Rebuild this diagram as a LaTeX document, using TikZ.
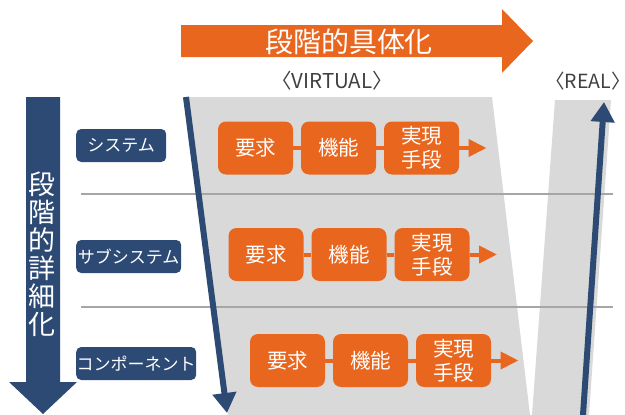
\documentclass[tikz,border=0pt]{standalone}
\usepackage{fontspec}
\setmainfont{Noto Sans CJK JP}
\usetikzlibrary{arrows.meta}

\definecolor{vorange}{HTML}{E9661F}
\definecolor{vnavy}{HTML}{2C4A74}
\definecolor{vgray}{HTML}{D9D9D9}
\definecolor{vline}{HTML}{A6A6A6}
\definecolor{vtext}{HTML}{404040}

\tikzset{
    stepbox/.style={fill=vorange, rounded corners=8pt, minimum width=75pt, minimum height=53pt,
        inner sep=0pt, text=white, align=center, font=\fontsize{20.5}{24}\selectfont},
    levelbox/.style={fill=vnavy, rounded corners=5pt, minimum height=33pt, inner sep=0pt,
        text=white, anchor=west, font=\fontsize{17}{20}\selectfont},
    flow/.style={vorange, line width=4pt},
    trend/.style={vnavy, line width=6pt, -{Triangle[length=20pt,width=23pt]}},
}

\begin{document}
\begin{tikzpicture}[x=1pt, y=-1pt]
    \useasboundingbox (0,0) rectangle (625,415);
    % gray bands
    \fill[vgray] (183,97) -- (492,97) -- (530,415) -- (228,415) -- cycle;
    \fill[vgray] (555,100) -- (611,100) -- (589,415) -- (532,415) -- cycle;
    \draw[vline, line width=1.5pt] (81,194) -- (613,194);
    \draw[vline, line width=1.5pt] (81,307) -- (613,307);
    % top arrow
    \fill[vorange] (181,25) -- (502,25) -- (502,9) -- (533,41) -- (502,73) -- (502,57) -- (181,57) -- cycle;
    \node[text=white, font=\fontsize{28}{30}\selectfont] (concrete) at (349,42) {段階的具体化};
    \node[text=vtext, font=\fontsize{20.5}{22}\selectfont] (virtual) at (332,81) {〈VIRTUAL〉};
    \node[text=vtext, font=\fontsize{19.5}{22}\selectfont, anchor=west, inner xsep=0pt] (real) at (545,81)
        {〈REAL〉\kern-0.6em};
    % left arrow
    \fill[vnavy] (26,97) -- (60,97) -- (60,382) -- (77,382) -- (43,414) -- (9,382) -- (26,382) -- cycle;
    \node[text=white, align=center, font=\fontsize{27}{28}\selectfont] (detail) at (42,254)
        {段\\階\\的\\詳\\細\\化};
    % V arrows
    \coordinate (vtop) at (186,97);
    \coordinate (vbot) at (227,413);
    \coordinate (rbot) at (583,415);
    \coordinate (rtop) at (604,102);
    \draw[trend] (vtop) -- (vbot);
    \draw[trend] (rbot) -- (rtop);
    % levels
    \node[levelbox, minimum width=90pt] (sys) at (76,145.5) {システム};
    \node[levelbox, minimum width=105pt] (sub) at (76,256.5) {サブシステム};
    \node[levelbox, minimum width=120pt] (comp) at (76,363.5) {コンポーネント};
    % steps
    \foreach \r/\x/\y in {1/255.5/148, 2/266/254.5, 3/287.5/360.5} {
        \node[stepbox] (req\r) at (\x,\y) {要求};
        \node[stepbox] (fun\r) at (\x+83,\y) {機能};
        \node[stepbox] (mea\r) at (\x+166,\y) {実現\\手段};
        \coordinate (end\r) at (\x+231,\y);
        \draw[flow] (req\r) -- (fun\r);
        \draw[flow] (fun\r) -- (mea\r);
        \draw[flow, -{Triangle[length=18pt,width=17pt]}] (mea\r) -- (end\r);
    }
\end{tikzpicture}
\end{document}
